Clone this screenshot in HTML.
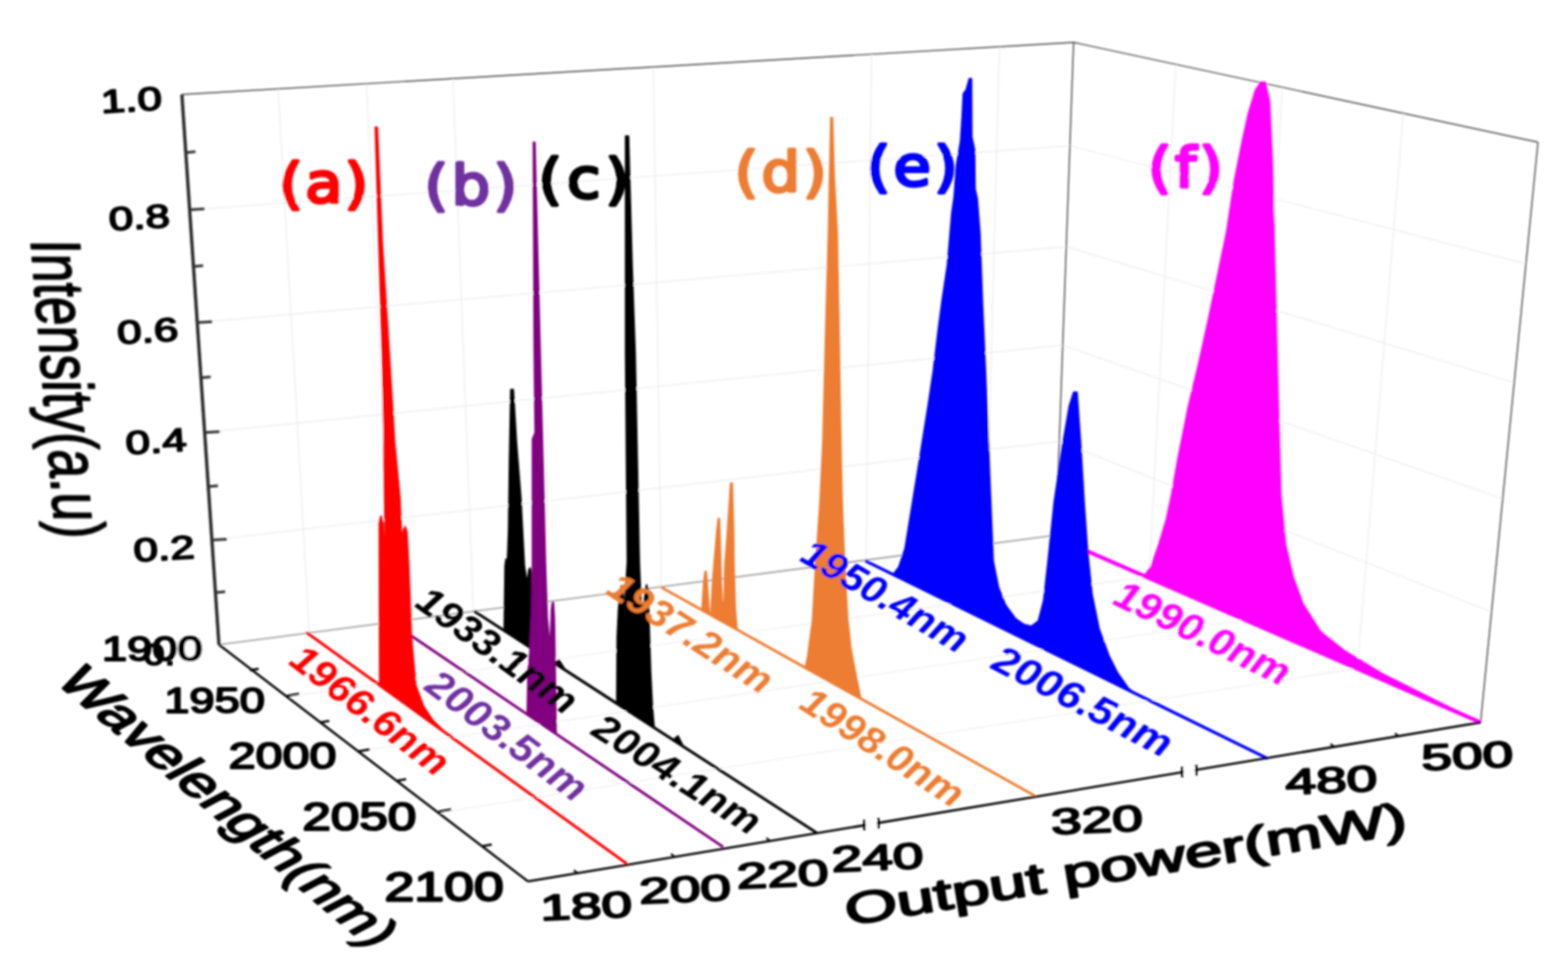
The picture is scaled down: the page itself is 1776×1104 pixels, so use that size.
<!DOCTYPE html>
<html><head><meta charset="utf-8"><title>Spectra</title>
<style>html,body{margin:0;padding:0;background:#fff;overflow:hidden;}svg{display:block;}</style>
</head><body>
<svg width="1776" height="1104" viewBox="0 0 1776 1104">
<defs><filter id="soft" x="-2%" y="-2%" width="104%" height="104%"><feGaussianBlur stdDeviation="1.1"/></filter></defs>
<rect width="1776" height="1104" fill="#fff"/>
<g filter="url(#soft)">
<g id="grid">
<line x1="240.0" y1="611.4" x2="1199.8" y2="499.8" stroke="#eeeeee" stroke-width="1.4" />
<line x1="1199.8" y1="499.8" x2="1689.4" y2="692.9" stroke="#eeeeee" stroke-width="1.4" />
<line x1="231.8" y1="489.8" x2="1203.7" y2="390.8" stroke="#eeeeee" stroke-width="1.4" />
<line x1="1203.7" y1="390.8" x2="1702.1" y2="564.7" stroke="#eeeeee" stroke-width="1.4" />
<line x1="223.4" y1="365.2" x2="1207.7" y2="279.2" stroke="#eeeeee" stroke-width="1.4" />
<line x1="1207.7" y1="279.2" x2="1715.1" y2="433.3" stroke="#eeeeee" stroke-width="1.4" />
<line x1="214.8" y1="237.6" x2="1211.8" y2="165.0" stroke="#eeeeee" stroke-width="1.4" />
<line x1="1211.8" y1="165.0" x2="1728.4" y2="298.7" stroke="#eeeeee" stroke-width="1.4" />
<line x1="315.0" y1="100.6" x2="350.3" y2="716.6" stroke="#eeeeee" stroke-width="1.4" />
<line x1="415.0" y1="94.8" x2="444.2" y2="704.3" stroke="#eeeeee" stroke-width="1.4" />
<line x1="513.0" y1="89.1" x2="536.2" y2="692.3" stroke="#eeeeee" stroke-width="1.4" />
<line x1="740.0" y1="75.8" x2="749.2" y2="664.4" stroke="#eeeeee" stroke-width="1.4" />
<line x1="987.0" y1="61.4" x2="981.1" y2="634.1" stroke="#eeeeee" stroke-width="1.4" />
<line x1="1132.0" y1="52.9" x2="1117.2" y2="616.3" stroke="#eeeeee" stroke-width="1.4" />
<line x1="1331.7" y1="72.9" x2="1301.8" y2="652.6" stroke="#eeeeee" stroke-width="1.4" />
<line x1="1452.7" y1="98.8" x2="1412.5" y2="701.4" stroke="#eeeeee" stroke-width="1.4" />
<line x1="1589.5" y1="128.2" x2="1537.5" y2="756.5" stroke="#eeeeee" stroke-width="1.4" />
<line x1="325.0" y1="789.0" x2="1301.8" y2="652.6" stroke="#efefef" stroke-width="1.3" />
<line x1="405.5" y1="850.6" x2="1412.5" y2="701.4" stroke="#efefef" stroke-width="1.3" />
<line x1="496.5" y1="920.3" x2="1537.5" y2="756.5" stroke="#efefef" stroke-width="1.3" />
</g>
<g id="box">
<line x1="206.0" y1="107.0" x2="1216.0" y2="48.0" stroke="#484848" stroke-width="1.4" />
<line x1="1216.0" y1="48.0" x2="1742.0" y2="161.0" stroke="#484848" stroke-width="1.4" />
<line x1="1742.0" y1="161.0" x2="1677.0" y2="818.0" stroke="#484848" stroke-width="1.4" />
<line x1="1216.0" y1="48.0" x2="1196.0" y2="606.0" stroke="#484848" stroke-width="1.4" />
<line x1="248.0" y1="730.0" x2="1196.0" y2="606.0" stroke="#999" stroke-width="1.6" />
</g>
<g id="series">
<line x1="1229.0" y1="623.0" x2="1677.0" y2="818.0" stroke="#ff00ff" stroke-width="4.5" />
<polygon points="1290.0,649.5 1297.0,651.0 1304.0,641.0 1312.6,616.0 1321.0,588.0 1327.0,560.0 1334.0,520.0 1346.0,460.0 1358.0,410.0 1369.0,360.0 1389.0,264.0 1398.0,205.0 1407.0,160.0 1414.0,128.0 1422.0,102.0 1428.0,93.0 1433.0,93.0 1438.0,115.0 1441.0,182.0 1443.0,264.0 1445.0,345.0 1447.0,426.0 1449.0,501.0 1450.6,560.0 1456.0,616.0 1464.6,653.0 1476.0,684.0 1495.6,715.0 1524.0,737.5 1566.0,763.0 1622.0,791.0 1677.0,818.0" fill="#ff00ff" stroke="#ff00ff" stroke-width="1.5" stroke-linejoin="round" />
<line x1="980.0" y1="635.0" x2="1436.0" y2="859.0" stroke="#0000ff" stroke-width="3.5" />
<polygon points="1012.0,650.0 1018.0,642.0 1025.0,621.0 1039.0,535.0 1051.0,460.0 1057.0,420.0 1063.0,370.0 1067.0,340.0 1073.0,300.0 1078.0,241.0 1080.6,223.0 1083.3,187.0 1087.9,160.0 1089.7,132.0 1091.0,106.0 1094.2,102.0 1097.8,89.0 1100.5,89.0 1100.8,155.0 1104.0,170.0 1104.5,214.0 1107.0,225.0 1110.0,264.0 1113.0,345.0 1116.5,426.0 1119.5,501.0 1125.0,635.0 1131.0,665.0 1139.0,685.0 1150.0,700.0 1160.0,707.0 1168.0,709.0 1176.0,703.0 1182.0,680.0 1187.0,635.0 1194.0,568.0 1204.0,501.0 1211.0,460.0 1216.0,444.0 1220.0,444.0 1224.0,501.0 1228.0,568.0 1232.0,625.0 1237.0,673.0 1245.0,712.0 1256.0,742.0 1266.0,762.0 1278.0,779.0 1286.0,785.5" fill="#0000ff" stroke="#0000ff" stroke-width="1.5" stroke-linejoin="round" />
<line x1="749.0" y1="665.0" x2="1172.0" y2="901.0" stroke="#ed7d31" stroke-width="3" />
<polygon points="795.0,691.0 797.0,660.0 798.5,647.0 800.0,647.0 801.5,665.0 803.5,695.0 805.0,696.0 807.0,660.0 808.5,640.0 812.0,600.0 813.5,587.0 815.0,587.0 816.0,620.0 817.0,660.0 818.5,690.0 820.0,680.0 821.0,640.0 824.0,600.0 827.5,547.0 829.5,547.0 831.0,600.0 831.5,640.0 833.0,690.0 835.0,713.0" fill="#ed7d31" stroke="#ed7d31" stroke-width="1.5" stroke-linejoin="round" />
<polygon points="912.0,756.0 914.5,745.0 920.3,701.0 924.0,636.0 928.7,568.0 932.0,500.0 935.3,368.0 938.3,263.0 939.5,200.0 941.0,133.0 943.0,133.0 945.0,200.0 948.4,263.0 950.3,368.0 952.5,500.0 954.0,568.0 956.6,636.0 960.3,701.0 964.0,735.0 968.8,760.0 975.0,791.0" fill="#ed7d31" stroke="#ed7d31" stroke-width="1.5" stroke-linejoin="round" />
<line x1="537.0" y1="692.0" x2="925.0" y2="943.0" stroke="#000" stroke-width="3.2" />
<polygon points="571.0,714.0 572.0,640.0 573.0,633.0 574.5,640.0 576.0,600.0 577.0,520.0 578.5,441.0 581.5,441.0 585.0,500.0 590.0,563.0 594.0,640.0 597.0,660.0 599.0,645.0 600.5,643.0 602.0,650.0 603.0,735.0" fill="#000" stroke="#000" stroke-width="1.5" stroke-linejoin="round" />
<polygon points="698.5,796.0 699.0,720.0 700.5,690.0 702.5,668.0 704.0,663.0 705.5,668.0 707.0,690.0 709.0,660.0 710.5,636.0 709.3,500.0 708.5,400.0 708.5,154.0 712.0,154.0 716.0,300.0 719.5,400.0 721.5,500.0 724.2,636.0 726.0,680.0 729.0,690.0 731.0,668.0 732.4,662.0 734.0,668.0 735.1,700.0 737.0,760.0 739.0,800.0 741.0,824.0" fill="#000" stroke="#000" stroke-width="1.5" stroke-linejoin="round" />
<polygon points="762.0,838.0 768.0,833.0 774.0,845.0" fill="#000" stroke="#000" stroke-width="1.5" stroke-linejoin="round" />
<polygon points="628.0,751.0 633.0,747.0 640.0,758.0" fill="#000" stroke="#000" stroke-width="1.5" stroke-linejoin="round" />
<line x1="443.0" y1="704.5" x2="819.0" y2="959.0" stroke="#800080" stroke-width="3" />
<polygon points="597.0,808.0 598.0,760.0 600.0,740.0 602.0,700.0 603.0,672.0 603.0,497.0 606.0,490.0 605.0,400.0 604.0,161.0 606.0,161.0 612.0,400.0 614.5,500.0 617.0,600.0 618.0,640.0 620.0,700.0 622.0,720.0 623.0,740.0 624.5,690.0 625.5,682.0 627.0,682.0 628.0,700.0 629.0,760.0 630.0,831.0" fill="#800080" stroke="#800080" stroke-width="1.5" stroke-linejoin="round" />
<line x1="347.0" y1="716.0" x2="710.0" y2="978.0" stroke="#ff0000" stroke-width="3.2" />
<polygon points="430.0,776.0 429.5,590.0 431.6,584.0 434.0,592.0 435.0,640.0 436.0,600.0 435.0,500.0 433.0,400.0 429.0,274.0 425.0,144.0 427.5,144.0 433.0,274.0 441.0,400.0 447.0,500.0 453.0,563.0 455.0,610.0 457.0,600.0 458.8,596.0 461.0,602.0 463.0,640.0 466.0,720.0 471.0,776.0 480.0,800.0 490.0,815.0 504.0,829.0" fill="#ff0000" stroke="#ff0000" stroke-width="1.5" stroke-linejoin="round" />
</g>
<g id="axes">
<line x1="206.0" y1="107.0" x2="248.0" y2="730.0" stroke="#2a2a2a" stroke-width="3.7" />
<line x1="248.0" y1="730.0" x2="598.0" y2="998.0" stroke="#000" stroke-width="2.6" />
<line x1="598.0" y1="998.0" x2="1677.0" y2="818.0" stroke="#000" stroke-width="2.5" />
<line x1="240.0" y1="611.4" x2="257.0" y2="610.4" stroke="#333" stroke-width="3" />
<line x1="231.8" y1="489.8" x2="248.8" y2="488.8" stroke="#333" stroke-width="3" />
<line x1="223.4" y1="365.2" x2="240.4" y2="364.2" stroke="#333" stroke-width="3" />
<line x1="214.8" y1="237.6" x2="231.8" y2="236.6" stroke="#333" stroke-width="3" />
<line x1="244.0" y1="671.1" x2="255.0" y2="670.1" stroke="#333" stroke-width="3" />
<line x1="235.9" y1="550.9" x2="246.9" y2="549.9" stroke="#333" stroke-width="3" />
<line x1="227.6" y1="427.8" x2="238.6" y2="426.8" stroke="#333" stroke-width="3" />
<line x1="219.1" y1="301.7" x2="230.1" y2="300.7" stroke="#333" stroke-width="3" />
<line x1="210.4" y1="172.7" x2="221.4" y2="171.7" stroke="#333" stroke-width="3" />
<line x1="283.0" y1="759.0" x2="293.0" y2="757.3" stroke="#000" stroke-width="2.5" />
<line x1="325.0" y1="788.0" x2="339.0" y2="785.6" stroke="#000" stroke-width="2.5" />
<line x1="363.0" y1="818.0" x2="373.0" y2="816.3" stroke="#000" stroke-width="2.5" />
<line x1="405.0" y1="851.0" x2="419.0" y2="848.6" stroke="#000" stroke-width="2.5" />
<line x1="450.0" y1="884.0" x2="460.0" y2="882.3" stroke="#000" stroke-width="2.5" />
<line x1="497.0" y1="919.0" x2="511.0" y2="916.6" stroke="#000" stroke-width="2.5" />
<line x1="547.0" y1="958.0" x2="557.0" y2="956.3" stroke="#000" stroke-width="2.5" />
<line x1="654.0" y1="988.5" x2="650.0" y2="985.3" stroke="#000" stroke-width="2.2" />
<line x1="764.0" y1="970.0" x2="760.0" y2="966.8" stroke="#000" stroke-width="2.2" />
<line x1="872.0" y1="952.0" x2="868.0" y2="948.8" stroke="#000" stroke-width="2.2" />
<line x1="1511.0" y1="845.5" x2="1507.0" y2="842.3" stroke="#000" stroke-width="2.2" />
<line x1="1584.0" y1="833.5" x2="1580.0" y2="830.3" stroke="#000" stroke-width="2.2" />
<rect x="981" y="929.1065801668211" width="12" height="8" fill="#fff"/>
<line x1="979.0" y1="928.1" x2="979.0" y2="940.1" stroke="#000" stroke-width="2.5" />
<line x1="995.0" y1="926.1" x2="995.0" y2="938.1" stroke="#000" stroke-width="2.5" />
<rect x="1341" y="869.0509731232623" width="12" height="8" fill="#fff"/>
<line x1="1339.0" y1="868.1" x2="1339.0" y2="880.1" stroke="#000" stroke-width="2.5" />
<line x1="1355.0" y1="866.1" x2="1355.0" y2="878.1" stroke="#000" stroke-width="2.5" />
</g>
<g id="ticklabels">
<text transform="translate(149.5,126.0) rotate(-3.5) scale(1.342,1.0)" font-family="'Liberation Sans', sans-serif" font-size="37" font-weight="normal" font-style="normal" fill="#000" text-anchor="middle" stroke="#000" stroke-width="1.83" stroke-linejoin="round">1.0</text>
<text transform="translate(158.5,259.0) rotate(-3.5) scale(1.342,1.0)" font-family="'Liberation Sans', sans-serif" font-size="37" font-weight="normal" font-style="normal" fill="#000" text-anchor="middle" stroke="#000" stroke-width="1.83" stroke-linejoin="round">0.8</text>
<text transform="translate(168.0,387.5) rotate(-3.5) scale(1.342,1.0)" font-family="'Liberation Sans', sans-serif" font-size="37" font-weight="normal" font-style="normal" fill="#000" text-anchor="middle" stroke="#000" stroke-width="1.83" stroke-linejoin="round">0.6</text>
<text transform="translate(177.5,512.5) rotate(-3.5) scale(1.342,1.0)" font-family="'Liberation Sans', sans-serif" font-size="37" font-weight="normal" font-style="normal" fill="#000" text-anchor="middle" stroke="#000" stroke-width="1.83" stroke-linejoin="round">0.4</text>
<text transform="translate(186.5,634.0) rotate(-3.5) scale(1.342,1.0)" font-family="'Liberation Sans', sans-serif" font-size="37" font-weight="normal" font-style="normal" fill="#000" text-anchor="middle" stroke="#000" stroke-width="1.83" stroke-linejoin="round">0.2</text>
<text transform="translate(192.5,752.5) scale(1.233,1.0)" font-family="'Liberation Sans', sans-serif" font-size="35" font-weight="normal" font-style="normal" fill="#000" text-anchor="middle" stroke="#000" stroke-width="1.73" stroke-linejoin="round">0.0</text>
<rect x="198.5" y="722" width="34" height="36" fill="#fff"/>
<text transform="translate(172.5,748.0) scale(1.298,1.0)" font-family="'Liberation Sans', sans-serif" font-size="39.5" font-weight="normal" font-style="normal" fill="#000" text-anchor="middle" stroke="#000" stroke-width="1.95" stroke-linejoin="round">1900</text>
<text transform="translate(243.0,806.5) scale(1.281,1.0)" font-family="'Liberation Sans', sans-serif" font-size="40" font-weight="normal" font-style="normal" fill="#000" text-anchor="middle" stroke="#000" stroke-width="1.97" stroke-linejoin="round">1950</text>
<text transform="translate(320.0,869.5) scale(1.306,1.0)" font-family="'Liberation Sans', sans-serif" font-size="42" font-weight="normal" font-style="normal" fill="#000" text-anchor="middle" stroke="#000" stroke-width="2.07" stroke-linejoin="round">2000</text>
<text transform="translate(407.0,940.0) scale(1.318,1.0)" font-family="'Liberation Sans', sans-serif" font-size="44" font-weight="normal" font-style="normal" fill="#000" text-anchor="middle" stroke="#000" stroke-width="2.17" stroke-linejoin="round">2050</text>
<text transform="translate(503.0,1020.0) scale(1.334,1.0)" font-family="'Liberation Sans', sans-serif" font-size="45.5" font-weight="normal" font-style="normal" fill="#000" text-anchor="middle" stroke="#000" stroke-width="2.25" stroke-linejoin="round">2100</text>
<text transform="translate(664.5,1040.0) rotate(-2.5) scale(1.521,1.0)" font-family="'Liberation Sans', sans-serif" font-size="41" font-weight="normal" font-style="normal" fill="#000" text-anchor="middle" stroke="#000" stroke-width="2.02" stroke-linejoin="round">180</text>
<text transform="translate(776.5,1021.0) rotate(-2.5) scale(1.521,1.0)" font-family="'Liberation Sans', sans-serif" font-size="41" font-weight="normal" font-style="normal" fill="#000" text-anchor="middle" stroke="#000" stroke-width="2.02" stroke-linejoin="round">200</text>
<text transform="translate(887.0,1004.0) rotate(-2.5) scale(1.521,1.0)" font-family="'Liberation Sans', sans-serif" font-size="41" font-weight="normal" font-style="normal" fill="#000" text-anchor="middle" stroke="#000" stroke-width="2.02" stroke-linejoin="round">220</text>
<text transform="translate(994.5,985.0) rotate(-2.5) scale(1.521,1.0)" font-family="'Liberation Sans', sans-serif" font-size="41" font-weight="normal" font-style="normal" fill="#000" text-anchor="middle" stroke="#000" stroke-width="2.02" stroke-linejoin="round">240</text>
<text transform="translate(1243.0,942.5) rotate(-2.5) scale(1.521,1.0)" font-family="'Liberation Sans', sans-serif" font-size="41" font-weight="normal" font-style="normal" fill="#000" text-anchor="middle" stroke="#000" stroke-width="2.02" stroke-linejoin="round">320</text>
<text transform="translate(1508.5,897.5) rotate(-2.5) scale(1.521,1.0)" font-family="'Liberation Sans', sans-serif" font-size="41" font-weight="normal" font-style="normal" fill="#000" text-anchor="middle" stroke="#000" stroke-width="2.02" stroke-linejoin="round">480</text>
<text transform="translate(1662.5,870.0) rotate(-2.5) scale(1.521,1.0)" font-family="'Liberation Sans', sans-serif" font-size="41" font-weight="normal" font-style="normal" fill="#000" text-anchor="middle" stroke="#000" stroke-width="2.02" stroke-linejoin="round">500</text>
</g>
<g id="titles">
<text transform="translate(34.5,271.0) rotate(85.2) skewX(-5) scale(0.735,1.0)" font-family="'Liberation Sans', sans-serif" font-size="80" font-weight="normal" font-style="normal" fill="#000" text-anchor="start" stroke="#000" stroke-width="1.8" stroke-linejoin="round">Intensity(a.u)</text>
<text transform="translate(61.0,771.0) rotate(40.2) skewX(-22) scale(1.152,1.0)" font-family="'Liberation Sans', sans-serif" font-size="56" font-weight="normal" font-style="normal" fill="#000" text-anchor="start" stroke="#000" stroke-width="2.3" stroke-linejoin="round">Wavelength(nm)</text>
<text transform="translate(960.0,1048.0) rotate(-9.4) scale(1.525,1.0)" font-family="'Liberation Sans', sans-serif" font-size="50" font-weight="normal" font-style="normal" fill="#000" text-anchor="start" stroke="#000" stroke-width="2.2" stroke-linejoin="round">Output power(mW)</text>
</g>
<g id="panels">
<text transform="translate(368.0,228.5) scale(1.1,1.0)" font-family="'DejaVu Sans', sans-serif" font-size="62.5" font-weight="normal" font-style="normal" fill="#ff0000" text-anchor="middle" stroke="#ff0000" stroke-width="3.5" stroke-linejoin="round" letter-spacing="2.3">(a)</text>
<text transform="translate(535.3,230.5) scale(1.1,1.0)" font-family="'DejaVu Sans', sans-serif" font-size="62.5" font-weight="normal" font-style="normal" fill="#7030a0" text-anchor="middle" stroke="#7030a0" stroke-width="3.5" stroke-linejoin="round" letter-spacing="3.6">(b)</text>
<text transform="translate(664.0,223.5) scale(1.1,1.0)" font-family="'DejaVu Sans', sans-serif" font-size="62.5" font-weight="normal" font-style="normal" fill="#000" text-anchor="middle" stroke="#000" stroke-width="3.5" stroke-linejoin="round" letter-spacing="5.2">(c)</text>
<text transform="translate(886.0,215.5) scale(1.1,1.0)" font-family="'DejaVu Sans', sans-serif" font-size="62.5" font-weight="normal" font-style="normal" fill="#ed7d31" text-anchor="middle" stroke="#ed7d31" stroke-width="3.5" stroke-linejoin="round" letter-spacing="3.2">(d)</text>
<text transform="translate(1035.0,209.5) scale(1.1,1.0)" font-family="'DejaVu Sans', sans-serif" font-size="62.5" font-weight="normal" font-style="normal" fill="#0000ff" text-anchor="middle" stroke="#0000ff" stroke-width="3.5" stroke-linejoin="round" letter-spacing="3.2">(e)</text>
<text transform="translate(1344.5,210.5) scale(1.1,1.0)" font-family="'DejaVu Sans', sans-serif" font-size="62.5" font-weight="normal" font-style="normal" fill="#ff00ff" text-anchor="middle" stroke="#ff00ff" stroke-width="3.5" stroke-linejoin="round" letter-spacing="3.2">(f)</text>
</g>
<g id="wl">
<text transform="translate(410.0,816.0) rotate(37.5) scale(1.06,1.0)" font-family="'Liberation Sans', sans-serif" font-size="44" font-weight="bold" font-style="italic" fill="#ff0000" text-anchor="middle">1966.6nm</text>
<text transform="translate(565.2,845.0) rotate(37) scale(1.06,1.0)" font-family="'Liberation Sans', sans-serif" font-size="44.5" font-weight="bold" font-style="italic" fill="#7030a0" text-anchor="middle">2003.5nm</text>
<text transform="translate(554.5,748.5) rotate(36) scale(1.06,1.0)" font-family="'Liberation Sans', sans-serif" font-size="44" font-weight="bold" font-style="italic" fill="#000" text-anchor="middle">1933.1nm</text>
<text transform="translate(759.0,889.0) rotate(32.5) scale(1.1,1.0)" font-family="'Liberation Sans', sans-serif" font-size="43" font-weight="bold" font-style="italic" fill="#000" text-anchor="middle">2004.1nm</text>
<text transform="translate(774.0,729.5) rotate(33) scale(1.06,1.0)" font-family="'Liberation Sans', sans-serif" font-size="44" font-weight="bold" font-style="italic" fill="#ed7d31" text-anchor="middle">1937.2nm</text>
<text transform="translate(991.5,858.5) rotate(33) scale(1.06,1.0)" font-family="'Liberation Sans', sans-serif" font-size="43.5" font-weight="bold" font-style="italic" fill="#ed7d31" text-anchor="middle">1998.0nm</text>
<text transform="translate(995.0,687.5) rotate(30.5) scale(1.06,1.0)" font-family="'Liberation Sans', sans-serif" font-size="43.5" font-weight="bold" font-style="italic" fill="#0000ff" text-anchor="middle">1950.4nm</text>
<text transform="translate(1219.5,807.5) rotate(27.5) scale(1.12,1.0)" font-family="'Liberation Sans', sans-serif" font-size="43.5" font-weight="bold" font-style="italic" fill="#0000ff" text-anchor="middle">2006.5nm</text>
<text transform="translate(1355.5,730.5) rotate(26) scale(1.06,1.0)" font-family="'Liberation Sans', sans-serif" font-size="44.5" font-weight="bold" font-style="italic" fill="#ff00ff" text-anchor="middle">1990.0nm</text>
</g>
</g>
</svg>
</body></html>
